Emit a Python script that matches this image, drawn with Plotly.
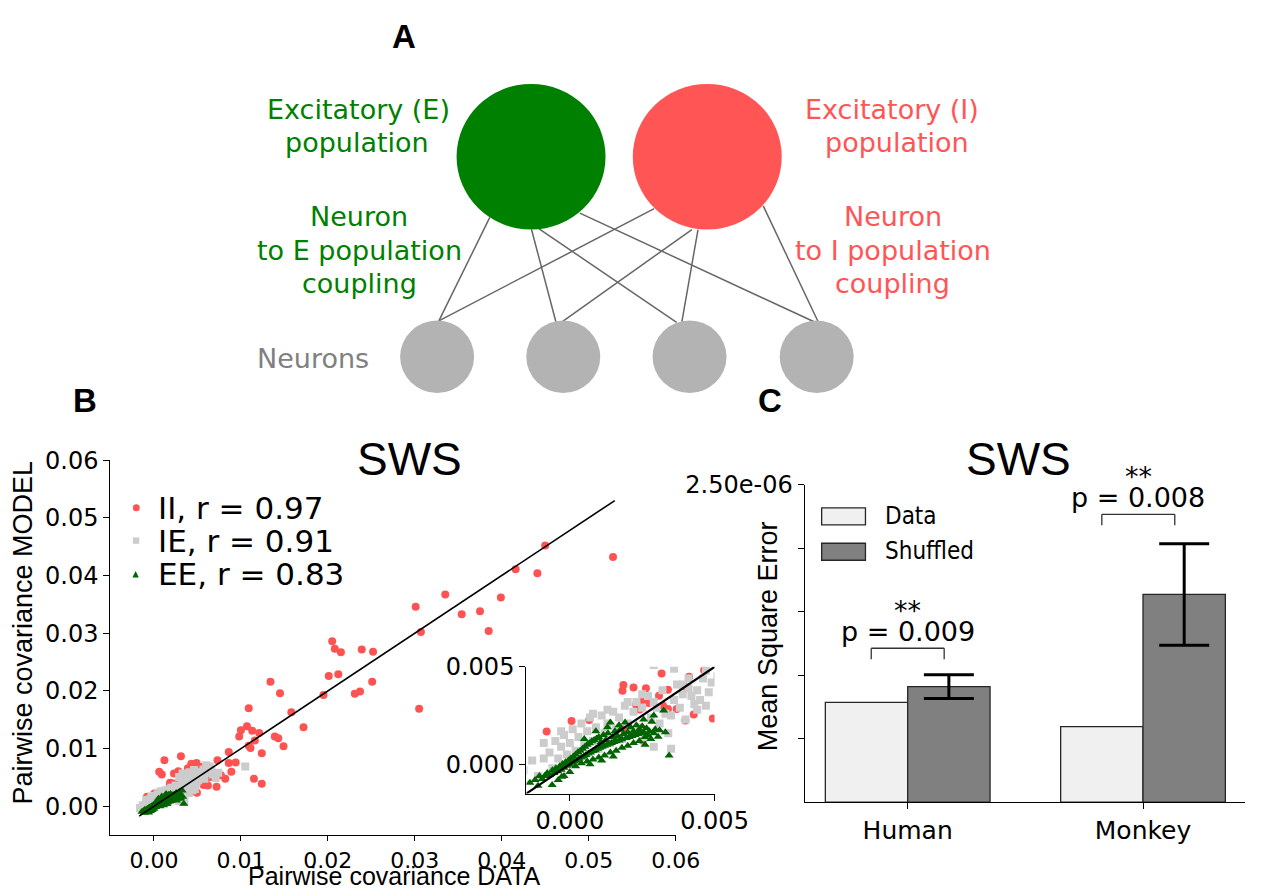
import plotly.graph_objects as go

# ---------------- data ----------------
# Panel B : pairwise covariances (DATA vs MODEL)
ii_x = [0.0450, 0.0528, 0.0416, 0.0441, 0.0399, 0.0335, 0.0354, 0.0375, 0.0385, 0.0301, 0.0307, 0.0305,
        0.0205, 0.0208, 0.0215, 0.0239, 0.0252, 0.0201, 0.0212, 0.0251, 0.0231, 0.0237, 0.0195, 0.0134,
        0.0145, 0.0158, 0.0172, 0.0109, 0.0107, 0.0100, 0.0098, 0.0113, 0.0121, 0.0139, 0.0143, 0.0149,
        0.0109, 0.0111, 0.0116, 0.0124, 0.0115, 0.0124, 0.0086, 0.0086, 0.0089, 0.0094, 0.0073, 0.0077,
        0.0072, 0.0031, 0.0012, 0.0006, 0.0009, 0.0023, 0.0028, 0.0043, 0.0049, 0.0047, 0.0053, 0.0060,
        0.0057, 0.0062, 0.0066, 0.0082, 0.0054, 0.0039,
        0.00317, 0.00464, 0.00412, 0.00185, 0.00220, 0.00263, 0.00182, 0.00339, 0.00308, 0.00397,
        0.00229, 0.00241, 0.00369, 0.00428, 0.00399, 0.00494, 0.00006, 0.00067, -0.0008, 0.00246,
        0.00252, 0.00339, 0.00185, 0.00250, 0.00272, 0.00322]
ii_y = [0.0452, 0.0432, 0.0411, 0.0404, 0.0362, 0.0367, 0.0333, 0.0338, 0.0304, 0.0346, 0.0302, 0.0169,
        0.0286, 0.0273, 0.0267, 0.0272, 0.0268, 0.0226, 0.0229, 0.0216, 0.0195, 0.0199, 0.0193, 0.0216,
        0.0196, 0.0163, 0.0137, 0.0170, 0.0139, 0.0132, 0.0121, 0.0131, 0.0127, 0.0121, 0.0118, 0.0104,
        0.0105, 0.0101, 0.0114, 0.0092, 0.0048, 0.0039, 0.0094, 0.0075, 0.0060, 0.0076, 0.0080, 0.0054,
        0.0034, 0.0087, 0.0080, 0.0060, 0.0055, 0.0057, 0.0061, 0.0074, 0.0075, 0.0065, 0.0054, 0.0048,
        0.0037, 0.0036, 0.0051, 0.0048, 0.0068, 0.0066,
        0.00466, 0.00483, 0.00449, 0.00407, 0.00394, 0.00390, 0.00377, 0.00382, 0.00352, 0.00399,
        0.00306, 0.00281, 0.00284, 0.00256, 0.00225, 0.00235, 0.00222, 0.00227, 0.00168, 0.00177,
        0.00121, 0.00284, 0.00180, 0.00330, 0.00315, 0.00300]

ie_x = [-0.0016, -0.0013, -0.0011, -0.0009, -0.0009, -0.0007, -0.0006, -0.0005, -0.0004, -0.0003, -0.0002,
        -0.0001, 0.0000, 0.0001, 0.0002, 0.0003, 0.0004, 0.0005, 0.0006, 0.0007, 0.0008, 0.0009, 0.0010,
        0.0011, 0.0012, 0.0013, 0.0014, 0.0015, 0.0016, 0.0017, 0.0018, 0.0019, 0.0020, 0.0021, 0.0022,
        0.0023, 0.0024, 0.0025, 0.0026, 0.0027, 0.0028, 0.0029, 0.0030, 0.0031, 0.0032, 0.0033, 0.0034,
        0.0035, 0.0036, 0.0036, 0.0037, 0.0038, 0.0039, 0.0040, 0.0041, 0.0042, 0.0043, 0.0044, 0.0045,
        0.0046, 0.0047, 0.0048, 0.0049, 0.0044, 0.0047, 0.0041, 0.0029, 0.0013, 0.0008, -0.0003, 0.0035,
        0.0039, 0.0020, 0.0025,
        0.0051, 0.0052, 0.0055, 0.0058, 0.0060, 0.0062, 0.0066, 0.0068, 0.0071, 0.0074, 0.0105, 0.0053,
        0.0050, 0.0046, 0.0041, 0.0038, 0.0033, 0.0029, 0.0057, 0.0064]
ie_y = [-0.0003, 0.0002, -0.0006, 0.0011, 0.0003, 0.0006, -0.0002, 0.0012, 0.0003, 0.0009, 0.0015,
        0.0005, 0.0011, 0.0018, 0.0007, 0.0014, 0.0021, 0.0010, 0.0017, 0.0024, 0.0012, 0.0019, 0.0008,
        0.0025, 0.0016, 0.0021, 0.0011, 0.0027, 0.0018, 0.0024, 0.0013, 0.0030, 0.0021, 0.0017, 0.0027,
        0.0032, 0.0019, 0.0029, 0.0014, 0.0035, 0.0024, 0.0009, 0.0029, 0.0021, 0.0038, 0.0026, 0.0016,
        0.0008, 0.0049, 0.0033, 0.0041, 0.0029, 0.0036, 0.0023, 0.0044, 0.0035, 0.0031, 0.0038, 0.0033,
        0.0044, 0.0048, 0.0037, 0.0042, 0.0028, 0.0030, 0.0039, 0.0032, 0.0028, 0.0026, 0.0017, 0.0025,
        0.0041, 0.0032, 0.0036,
        0.0045, 0.0052, 0.0049, 0.0048, 0.0071, 0.0058, 0.0062, 0.0055, 0.0049, 0.0058, 0.0069, 0.0060,
        0.0056, 0.0063, 0.0059, 0.0053, 0.0057, 0.0051, 0.0064, 0.0069]

ee_x = [-0.00138, -0.00120, -0.00105, -0.00095, -0.00087, -0.00078, -0.00070, -0.00061, -0.00060, -0.00055,
        -0.00048, -0.00042, -0.00035, -0.00030, -0.00025, -0.00020, -0.00015, -0.00010, -0.00005, 0.00000,
        0.00003, 0.00008, 0.00012, 0.00016, 0.00020, 0.00024, 0.00028, 0.00032, 0.00036, 0.00040,
        0.00044, 0.00048, 0.00052, 0.00056, 0.00060, 0.00064, 0.00068, 0.00072, 0.00076, 0.00080,
        0.00084, 0.00088, 0.00092, 0.00096, 0.00100, 0.00104, 0.00108, 0.00112, 0.00116, 0.00120,
        0.00124, 0.00128, 0.00132, 0.00136, 0.00140, 0.00144, 0.00148, 0.00152, 0.00156, 0.00160,
        0.00165, 0.00170, 0.00175, 0.00180, 0.00185, 0.00191, 0.00195, 0.00200, 0.00205, 0.00210,
        0.00215, 0.00220, 0.00225, 0.00230, 0.00235, 0.00240, 0.00245, 0.00250, 0.00255, 0.00260,
        0.00265, 0.00270, 0.00275, 0.00283, 0.00290, 0.00295, 0.00305, 0.00310, 0.00324, 0.00343,
        0.00330, 0.00020, 0.00040, 0.00060, 0.00080, 0.00100, 0.00120, 0.00140, 0.00160, 0.00180,
        0.00200, 0.00220, 0.00240, 0.00260, 0.00280, 0.00070, 0.00110, 0.00150, -0.00040, -0.00020,
        0.00000, -0.00110, 0.00050, 0.00090, 0.00130, 0.00170, 0.00255, 0.00290, -0.00028]
ee_y = [-0.00094, -0.00080, -0.00060, -0.00075, -0.00060, -0.00045, -0.00055, -0.00106, -0.00030, -0.00045,
        -0.00020, -0.00035, -0.00010, -0.00028, 0.00002, -0.00018, 0.00010, -0.00008, 0.00020, -0.00002,
        0.00030, 0.00008, 0.00040, 0.00015, 0.00050, 0.00020, 0.00062, 0.00028, 0.00070, 0.00035,
        0.00080, 0.00040, 0.00090, 0.00048, 0.00100, 0.00055, 0.00108, 0.00060, 0.00118, 0.00068,
        0.00125, 0.00072, 0.00132, 0.00080, 0.00140, 0.00085, 0.00115, 0.00090, 0.00150, 0.00095,
        0.00125, 0.00100, 0.00160, 0.00105, 0.00214, 0.00110, 0.00140, 0.00115, 0.00170, 0.00118,
        0.00145, 0.00122, 0.00180, 0.00128, 0.00155, 0.00214, 0.00135, 0.00165, 0.00140, 0.00190,
        0.00145, 0.00170, 0.00150, 0.00200, 0.00155, 0.00180, 0.00160, 0.00195, 0.00165, 0.00140,
        0.00185, 0.00150, 0.00170, 0.00219, 0.00160, 0.00180, 0.00141, 0.00175, 0.00276, 0.00045,
        0.00165, -0.00010, 0.00005, 0.00015, 0.00025, 0.00035, 0.00045, 0.00060, 0.00070, 0.00085,
        0.00095, 0.00110, 0.00120, 0.00100, 0.00130, 0.00000, 0.00020, 0.00040, -0.00080, -0.00060,
        -0.00040, -0.00110, 0.00130, 0.00170, 0.00190, 0.00200, 0.00230, 0.00250, -0.00064]

identity_line = [-0.0017, 0.053]
series_names = ["II, r = 0.97", "IE, r = 0.91", "EE, r = 0.83"]
main_ticks = [0.00, 0.01, 0.02, 0.03, 0.04, 0.05, 0.06]
inset_ticks = [0.000, 0.005]

# Panel C : mean square error
categories = ["Human", "Monkey"]
mse_data = [0.786e-6, 0.595e-6]
mse_shuffled = [0.910e-6, 1.636e-6]
mse_shuffled_err = [0.093e-6, 0.400e-6]
p_labels = ["p = 0.009", "p = 0.008"]
bracket_center = [0.0, 0.98]
bracket_top = [1.212e-6, 2.267e-6]
bracket_leg = [1.125e-6, 2.181e-6]
c_yticks = [0.5e-6, 1.0e-6, 1.5e-6, 2.0e-6, 2.5e-6]
c_yticklabels = ["", "", "", "", "2.50e-06"]

# ---------------- helpers ----------------
W, H = 1284, 890


def PX(x):
    return x / W


def PY(y):
    return 1 - y / H


RED = "#ff5252"
GRAY = "#cccccc"
GREEN = "#006400"
DJ = "DejaVu Sans"
AR = "Liberation Sans, Arial"

fig = go.Figure()

# ---- Panel B main scatter + inset ----
for xref, yref, lw in [("x", "y", 1.6), ("x2", "y2", 2.2)]:
    fig.add_trace(go.Scatter(x=ii_x, y=ii_y, mode="markers", xaxis=xref, yaxis=yref,
                             marker=dict(symbol="circle", size=8, color=RED), showlegend=False))
    fig.add_trace(go.Scatter(x=ie_x, y=ie_y, mode="markers", xaxis=xref, yaxis=yref,
                             marker=dict(symbol="square", size=8, color=GRAY), showlegend=False))
    fig.add_trace(go.Scatter(x=ee_x, y=ee_y, mode="markers", xaxis=xref, yaxis=yref,
                             marker=dict(symbol="triangle-up", size=8, color=GREEN), showlegend=False))
    fig.add_trace(go.Scatter(x=identity_line, y=identity_line, mode="lines", xaxis=xref, yaxis=yref,
                             line=dict(color="black", width=lw), showlegend=False))

# ---- Panel C bars ----
cat_pos = list(range(len(categories)))
fig.add_trace(go.Bar(x=cat_pos, y=mse_data, xaxis="x3", yaxis="y3", name="Data",
                     marker=dict(color="#f0f0f0", line=dict(color="#262626", width=1.3)),
                     showlegend=False))
fig.add_trace(go.Bar(x=cat_pos, y=mse_shuffled, xaxis="x3", yaxis="y3", name="Shuffled",
                     marker=dict(color="#808080", line=dict(color="#262626", width=1.3)),
                     error_y=dict(type="data", array=mse_shuffled_err, color="black",
                                  thickness=3, width=25),
                     showlegend=False))

axis_common = dict(showline=True, linecolor="black", linewidth=1.3, ticks="outside",
                   ticklen=6, tickwidth=1.3, tickcolor="black", showgrid=False,
                   zeroline=False, tickfont=dict(family=DJ, size=24, color="black"))

fig.update_layout(
    width=W, height=H, autosize=False,
    margin=dict(l=0, r=0, t=0, b=0),
    paper_bgcolor="white", plot_bgcolor="rgba(0,0,0,0)",
    barmode="group", bargap=0.3, bargroupgap=0,
    xaxis=dict(domain=[PX(113.5), PX(694)], range=[-0.005, 0.06], anchor="y",
               tickvals=main_ticks, ticktext=["%.2f" % v for v in main_ticks],
               **{**axis_common, "ticklen": 5,
                  "tickfont": dict(family=DJ, size=22, color="black")}),
    yaxis=dict(domain=[PY(834.3), PY(453.3)], range=[-0.005, 0.06], anchor="x",
               tickvals=main_ticks, ticktext=["%.2f" % v for v in main_ticks], **axis_common),
    xaxis2=dict(domain=[PX(540.7), PX(734)], range=[-0.0015, 0.005], anchor="y2",
                tickvals=inset_ticks, ticktext=["%.3f" % v for v in inset_ticks], **axis_common),
    yaxis2=dict(domain=[PY(792), PY(663.3)], range=[-0.0015, 0.005], anchor="x2",
                tickvals=inset_ticks, ticktext=["%.3f" % v for v in inset_ticks], **axis_common),
    xaxis3=dict(domain=[PX(826.6), PX(1279)], range=[-0.4377, 1.434], anchor="y3",
                tickvals=cat_pos, ticktext=categories,
                **{**axis_common, "tickfont": dict(family=DJ, size=25, color="black")}),
    yaxis3=dict(domain=[PY(800.7), PY(478.3)], range=[0, 2.5e-6], anchor="x3",
                tickvals=c_yticks, ticktext=c_yticklabels,
                **{**axis_common, "tickfont": dict(family=DJ, size=24, color="black")}),
)

shapes = []
ann = []


def text(x, y, s, size, color="black", family=DJ, xanchor="center", yanchor="middle",
         angle=0, xref="paper", yref="paper", yshift=0):
    if xref == "paper":
        x = PX(x)
    if yref == "paper":
        y = PY(y)
    ann.append(dict(x=x, y=y, xref=xref, yref=yref, text=s, showarrow=False,
                    xanchor=xanchor, yanchor=yanchor, textangle=angle, yshift=yshift,
                    font=dict(family=family, size=size, color=color)))


def ellipse(x0, y0, x1, y1, color):
    shapes.append(dict(type="circle", xref="paper", yref="paper", x0=PX(x0), x1=PX(x1),
                       y0=PY(y1), y1=PY(y0), fillcolor=color, line=dict(width=0)))


def seg(x0, y0, x1, y1, color="#666666", width=1.5):
    shapes.append(dict(type="line", xref="paper", yref="paper", x0=PX(x0), y0=PY(y0),
                       x1=PX(x1), y1=PY(y1), line=dict(color=color, width=width)))


# ---- Panel A diagram ----
links = [((503.1, 206.7), (450.8, 311.7)), ((546, 219), (571, 312.7)),
         ((553.8, 218.3), (695, 313.3)), ((595.6, 202.3), (836.2, 312.7)),
         ((672, 197.7), (450.8, 311.7)), ((710.7, 219), (577.3, 312.7)),
         ((717, 219), (700.3, 313.3)), ((784, 195), (840.4, 312.7))]
for (a, b) in links:
    seg(a[0], a[1], b[0], b[1])
ellipse(469, 71, 622, 219, "#008000")
ellipse(650, 71, 803, 219, "#ff5555")
for cx in [449, 578.6, 708.3, 838.9]:
    ellipse(cx - 38, 311.5, cx + 38, 385, "#b3b3b3")

GA = "#008000"
RA = "#ff5555"
text(368, 97, "Excitatory (E)", 27, GA)
text(367, 131, "population", 27, GA)
text(369, 206, "Neuron", 27, GA)
text(369, 240, "to E population", 27, GA)
text(369, 274, "coupling", 27, GA)
text(916, 97, "Excitatory (I)", 27, RA)
text(921, 131, "population", 27, RA)
text(917, 206, "Neuron", 27, RA)
text(917, 240, "to I population", 27, RA)
text(917, 274, "coupling", 27, RA)
text(322, 350, "Neurons", 27, "#808080")

# panel letters
text(415, 23, "<b>A</b>", 33, family=AR)
text(87, 393, "<b>B</b>", 33, family=AR)
text(791, 393, "<b>C</b>", 33, family=AR)

# ---- Panel B texts ----
text(421, 452, "SWS", 46, family=AR)
text(24, 628, "Pairwise covariance MODEL", 27, family=AR, angle=-90)
text(405, 876, "Pairwise covariance DATA", 25, family=AR)
legend_rows = [501.7, 535, 569.3]
for name, yy in zip(series_names, legend_rows):
    text(160, yy, name, 31, xanchor="left")
# legend markers
shapes.append(dict(type="circle", xref="paper", yref="paper", x0=PX(136.5), x1=PX(143.5),
                   y0=PY(505.2), y1=PY(498.2), fillcolor=RED, line=dict(width=0)))
shapes.append(dict(type="rect", xref="paper", yref="paper", x0=PX(136.5), x1=PX(143),
                   y0=PY(538.3), y1=PY(531.8), fillcolor=GRAY, line=dict(width=0)))
shapes.append(dict(type="path", xref="paper", yref="paper",
                   path="M %.5f,%.5f L %.5f,%.5f L %.5f,%.5f Z" % (
                       PX(136), PY(572.5), PX(142.6), PY(572.5), PX(139.3), PY(566)),
                   fillcolor=GREEN, line=dict(width=0)))

# ---- Panel C texts ----
text(1046, 452, "SWS", 46, family=AR)
text(789, 632, "Mean Square Error", 27, family=AR, angle=-90)
text(907, 510, "Data", 24, family="DejaVu Sans Condensed, DejaVu Sans", xanchor="left")
text(907, 546, "Shuffled", 24, family="DejaVu Sans Condensed, DejaVu Sans", xanchor="left")
shapes.append(dict(type="rect", xref="paper", yref="paper", x0=PX(844), x1=PX(889),
                   y0=PY(519), y1=PY(501.7), fillcolor="#f0f0f0", line=dict(color="#262626", width=1.3)))
shapes.append(dict(type="rect", xref="paper", yref="paper", x0=PX(844), x1=PX(889),
                   y0=PY(555), y1=PY(537.7), fillcolor="#808080", line=dict(color="#262626", width=1.3)))

half = 0.155
for c, top, leg, lab in zip(bracket_center, bracket_top, bracket_leg, p_labels):
    for (x0, y0, x1, y1) in [(c - half, leg, c - half, top), (c - half, top, c + half, top),
                             (c + half, top, c + half, leg)]:
        shapes.append(dict(type="line", xref="x3", yref="y3", x0=x0, y0=y0, x1=x1, y1=y1,
                           line=dict(color="#333333", width=1.3)))
    text(c, top, lab, 27, xref="x3", yref="y3", yanchor="middle", yshift=17)
    text(c, top, "**", 27, xref="x3", yref="y3", yanchor="middle", yshift=38)

fig.update_layout(shapes=shapes, annotations=ann)
fig.write_html("out.html")
